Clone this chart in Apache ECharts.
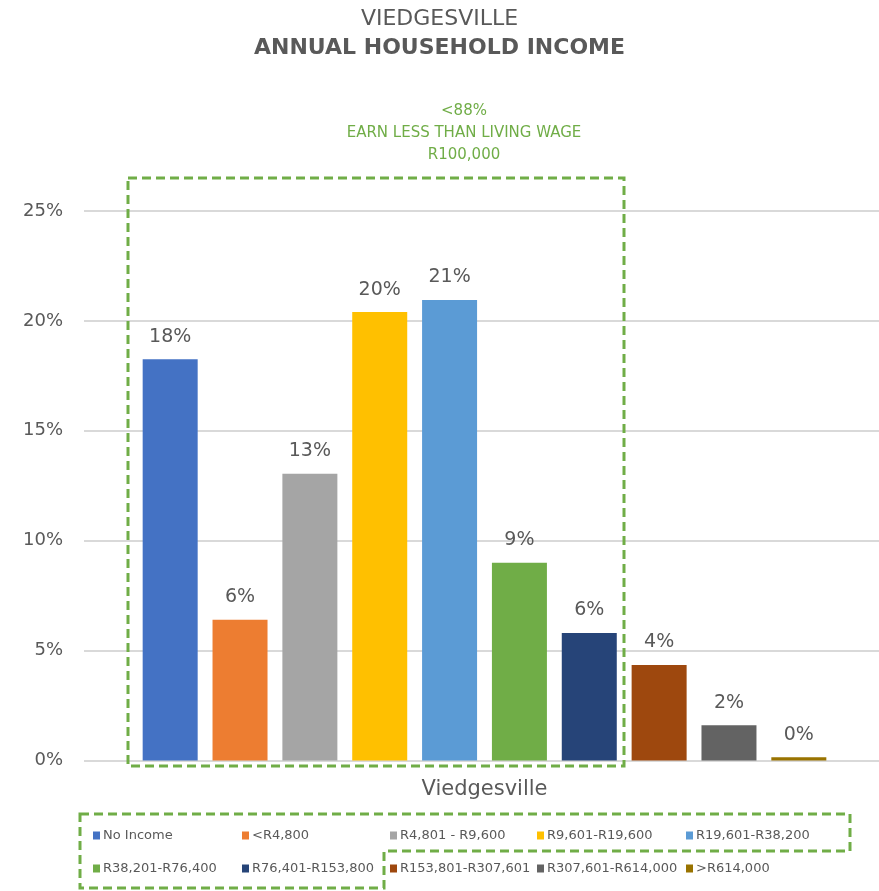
<!DOCTYPE html>
<html>
<head>
<meta charset="utf-8">
<script src="https://cdn.jsdelivr.net/npm/echarts@6/dist/echarts.min.js"></script>
<style>
  html, body { margin: 0; padding: 0; background: #ffffff; }
  #chart { width: 879px; height: 891px; }
</style>
</head>
<body>
<div id="chart"></div>
<script>
// Household income bands for Viedgesville (share of households, %)
const categories = ['Viedgesville'];
const bandNames = [
  'No Income', '<R4,800', 'R4,801 - R9,600', 'R9,601-R19,600', 'R19,601-R38,200',
  'R38,201-R76,400', 'R76,401-R153,800', 'R153,801-R307,601', 'R307,601-R614,000', '>R614,000'
];
const bandValues = [18.25, 6.4, 13.05, 20.4, 20.95, 9.0, 5.8, 4.35, 1.6, 0.15];
const bandColors = [
  '#4472C4', '#ED7D31', '#A5A5A5', '#FFC000', '#5B9BD5',
  '#70AD47', '#264478', '#9E480E', '#636363', '#997300'
];
const yTicks = { min: 0, max: 25, interval: 5 };
const noteLines = ['<88%', 'EARN LESS THAN LIVING WAGE', 'R100,000'];

const FONT = 'DejaVu Sans';
const GREY = '#595959';
const GREEN = '#70AD47';

// legend laid out as a 5 x 2 table
const legendCols = [93, 242, 390, 537, 686];
const legendRows = [829, 862];
const legends = bandNames.map((name, i) => ({
  data: [name],
  left: legendCols[i % 5],
  top: legendRows[Math.floor(i / 5)],
  itemWidth: 7,
  itemHeight: 8,
  itemGap: 0,
  padding: 0,
  icon: 'rect',
  selectedMode: false,
  textStyle: { fontFamily: FONT, fontSize: 13, color: GREY, padding: [0, 0, 0, -2] }
}));

const series = bandNames.map((name, i) => ({
  name: name,
  type: 'bar',
  barWidth: 55,
  barGap: '27%',
  itemStyle: { color: bandColors[i] },
  label: {
    show: true,
    position: 'top',
    distance: 13,
    fontFamily: FONT,
    fontSize: 19,
    color: GREY,
    formatter: p => Math.round(p.value) + '%'
  },
  data: [bandValues[i]]
}));

const chart = echarts.init(document.getElementById('chart'), null, { renderer: 'canvas' });
chart.setOption({
  backgroundColor: '#ffffff',
  animation: false,
  title: [
    {
      text: 'VIEDGESVILLE',
      left: 'center', top: 3,
      textStyle: { fontFamily: FONT, fontSize: 22, fontWeight: 'normal', color: GREY }
    },
    {
      text: 'ANNUAL HOUSEHOLD INCOME',
      left: 'center', top: 32,
      textStyle: { fontFamily: FONT, fontSize: 22, fontWeight: 'bold', color: GREY }
    },
    {
      text: noteLines.join('\n'),
      left: 459, top: 95, textAlign: 'center',
      textStyle: { fontFamily: FONT, fontSize: 15, fontWeight: 'normal', color: GREEN, lineHeight: 22, align: 'center' }
    }
  ],
  legend: legends,
  grid: {
    left: 84, top: 211, width: 801, height: 549.5,
    containLabel: false, outerBoundsMode: 'none'
  },
  xAxis: {
    type: 'category',
    data: categories,
    axisLine: { show: false },
    axisTick: { show: false },
    axisLabel: { fontFamily: FONT, fontSize: 21, color: GREY, margin: 19 }
  },
  yAxis: {
    type: 'value',
    min: yTicks.min, max: yTicks.max, interval: yTicks.interval,
    axisLine: { show: false },
    axisTick: { show: false },
    axisLabel: { fontFamily: FONT, fontSize: 18, color: GREY, margin: 21, formatter: '{value}%' },
    splitLine: { lineStyle: { color: '#D9D9D9', width: 2 } }
  },
  series: series,
  graphic: [
    {
      type: 'rect',
      shape: { x: 128, y: 178, width: 496, height: 588 },
      style: { fill: 'none', stroke: GREEN, lineWidth: 3, lineDash: [9, 5] },
      z: 10
    },
    {
      type: 'polygon',
      shape: { points: [[80, 814], [850, 814], [850, 851], [384, 851], [384, 888], [80, 888]] },
      style: { fill: 'none', stroke: GREEN, lineWidth: 3, lineDash: [9, 5] },
      z: 10
    }
  ]
});
</script>
</body>
</html>
